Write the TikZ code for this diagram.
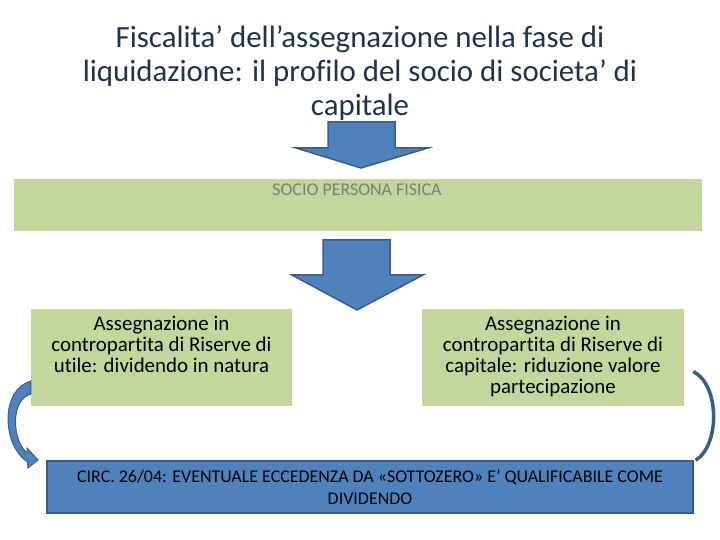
\documentclass[tikz,border=0pt]{standalone}
\usepackage{fontspec}
\setmainfont[Ligatures=NoCommon]{Carlito}
\usepackage{tikz}
\usetikzlibrary{positioning}

\begin{document}
\begin{tikzpicture}[join=miter]
%%
%%
\definecolor{cgreen}{HTML}{C3D69B}%
\definecolor{cblue}{HTML}{4F81BD}%
\definecolor{cedge}{HTML}{385D8A}%
\definecolor{cgray}{HTML}{7A7F72}%
\definecolor{ctitle}{HTML}{1F3350}%
%
\tikzset{
  greenbox/.style={fill=cgreen,draw=none,inner sep=0pt},
  bluearrow/.style={fill=cblue,draw=cedge,line width=1.5pt},
  boxtext/.style={font=\fontsize{21}{21}\selectfont,align=center},
}
\useasboundingbox (0bp,0bp) rectangle (720bp,540bp);
%
  \node (title) at (360bp,467bp) [align=center,font=\fontsize{31}{34}\selectfont,text=ctitle]
    {Fiscalita’ dell’assegnazione nella fase di\\liquidazione: il profilo del socio di societa’ di\\capitale};

\begin{scope}
  \draw[bluearrow] (328bp,418bp) -- (395bp,418bp) -- (395bp,392bp) -- (428bp,392bp)
    -- (361bp,372bp) -- (296bp,392bp) -- (328bp,392bp) -- cycle;
\end{scope}
  \node (band) at (358bp,335bp) [greenbox,minimum width=688bp,minimum height=52bp] {};
  \node (bandtxt) at (357bp,350bp) [text=cgray,font=\fontsize{18}{22}\selectfont] {SOCIO PERSONA FISICA};

\begin{scope}
  \draw[bluearrow] (323bp,300bp) -- (390bp,300bp) -- (390bp,265bp) -- (423bp,265bp)
    -- (357bp,230bp) -- (292bp,265bp) -- (323bp,265bp) -- cycle;
\end{scope}

  \node (lbox) at (161.5bp,182.5bp) [greenbox,minimum width=261bp,minimum height=97bp] {};
  \node (ltxt) [boxtext,below=4bp of lbox.north]
    {Assegnazione in\\contropartita di Riserve di\\utile: dividendo in natura};
  \node (rbox) at (553bp,182.5bp) [greenbox,minimum width=262bp,minimum height=97bp] {};
  \node (rtxt) [boxtext,below=4bp of rbox.north]
    {Assegnazione in\\contropartita di Riserve di\\capitale: riduzione valore\\partecipazione};

  \node (circ) at (370bp,53bp) [fill=cblue,draw=cedge,line width=1.5pt,minimum width=646bp,minimum height=52bp,
    align=center,font=\fontsize{18}{22}\selectfont]
    {CIRC. 26/04: EVENTUALE ECCEDENZA DA «SOTTOZERO» E’ QUALIFICABILE COME\\DIVIDENDO};

%  curved arrows
  \draw[bluearrow,line width=1pt] (lbox.west |- 0,159bp) .. controls (0bp,150bp) and (2bp,95bp) .. (27.5bp,78bp)
    -- (28bp,72bp) -- (38bp,80bp) -- (27bp,92bp) -- (27bp,87bp)
    .. controls (12bp,100bp) and (10bp,140bp) .. (lbox.west |- 0,146bp) -- cycle;
  \draw[cedge,line width=3.5pt] ([shift={(9bp,-14bp)}]rbox.east) .. controls (720bp,155bp) and (720bp,95bp)
    .. ([xshift=2bp]circ.north east);
%
\end{tikzpicture}
\end{document}
